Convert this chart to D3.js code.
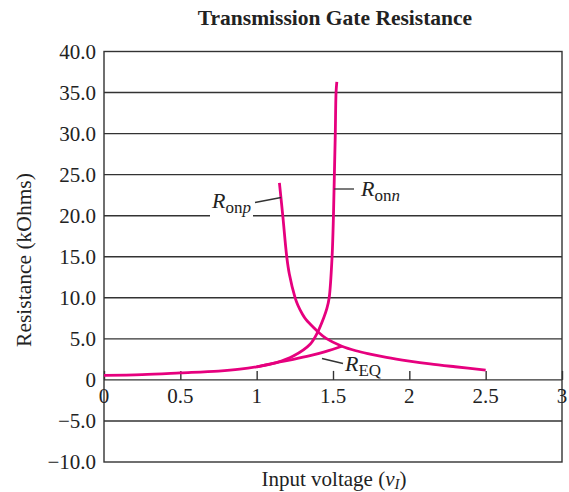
<!DOCTYPE html>
<html>
<head>
<meta charset="utf-8">
<script src="https://cdn.jsdelivr.net/npm/d3@7"></script>
<style>
  html, body { margin: 0; padding: 0; background: #fff; }
  svg { display: block; font-family: "Liberation Serif", "Times New Roman", serif; }
</style>
</head>
<body>
<svg id="chart" width="569" height="492"></svg>
<script>
// Input voltage (V) and on-resistance (kOhm) of the transmission gate devices
const ronnV = [0, 0.25, 0.5, 0.75, 0.89, 1.0, 1.13, 1.24, 1.35, 1.398, 1.44, 1.46, 1.475, 1.494, 1.503, 1.509, 1.515, 1.52, 1.525];
const ronnR = [0.55, 0.65, 0.85, 1.07, 1.3, 1.6, 2.1, 2.9, 4.34, 5.76, 7.6, 8.7, 10, 15, 20, 25, 30, 35, 36.3];

const ronpV = [1.149, 1.171, 1.197, 1.214, 1.252, 1.27, 1.30, 1.325, 1.35, 1.405, 1.455, 1.558, 1.65, 1.743, 1.85, 2.0, 2.136, 2.3, 2.5];
const ronpR = [24.0, 20, 15, 12.9, 10, 9.1, 8.0, 7.3, 6.8, 5.8, 5.05, 4.1, 3.55, 3.15, 2.75, 2.3, 1.95, 1.6, 1.2];

const reqV = [1.0, 1.13, 1.24, 1.35, 1.45, 1.558];
const reqR = [1.6, 2.1, 2.5, 2.95, 3.45, 4.1];

const xTicks = [0, 0.5, 1, 1.5, 2, 2.5, 3];
const xTickLabels = ["0", "0.5", "1", "1.5", "2", "2.5", "3"];
const yTicks = [40, 35, 30, 25, 20, 15, 10, 5, 0, -5, -10];
const yTickLabels = ["40.0", "35.0", "30.0", "25.0", "20.0", "15.0", "10.0", "5.0", "0", "\u22125.0", "\u221210.0"];

const svg = d3.select("#chart");
const ink = "#333";
const pink = "#e6007e";

const x = d3.scaleLinear().domain([0, 3]).range([104, 562]);
const y = d3.scaleLinear().domain([-10, 40]).range([462, 51.5]);

// title
svg.append("text")
  .attr("x", 335).attr("y", 25)
  .attr("text-anchor", "middle")
  .attr("font-weight", "bold")
  .attr("font-size", 21.5)
  .attr("fill", "#222")
  .text("Transmission Gate Resistance");

// horizontal grid lines
svg.append("g")
  .selectAll("line")
  .data(yTicks.filter(v => v !== 40 && v !== -10))
  .join("line")
  .attr("x1", x(0)).attr("x2", x(3))
  .attr("y1", d => y(d)).attr("y2", d => y(d))
  .attr("stroke", ink).attr("stroke-width", 1.4);

// frame
svg.append("rect")
  .attr("x", x(0)).attr("y", y(40))
  .attr("width", x(3) - x(0)).attr("height", y(-10) - y(40))
  .attr("fill", "none").attr("stroke", ink).attr("stroke-width", 1.4);

// x axis drawn on the zero line, ticks pointing up
const xAxis = d3.axisTop(x)
  .tickValues(xTicks)
  .tickSize(9)
  .tickFormat("");
const gx = svg.append("g").attr("transform", `translate(0,${y(0)})`).call(xAxis);
gx.select(".domain").remove();
gx.selectAll(".tick line").attr("stroke", ink).attr("stroke-width", 1.4);

svg.append("g")
  .selectAll("text")
  .data(xTicks)
  .join("text")
  .attr("x", d => x(d))
  .attr("y", y(0) + 23)
  .attr("text-anchor", "middle")
  .attr("font-size", 21)
  .attr("fill", "#222")
  .text((d, i) => xTickLabels[i]);

// y tick labels
svg.append("g")
  .selectAll("text")
  .data(yTicks)
  .join("text")
  .attr("x", 96)
  .attr("y", d => y(d) + 7)
  .attr("text-anchor", "end")
  .attr("font-size", 21)
  .attr("fill", "#222")
  .text((d, i) => yTickLabels[i]);

// axis titles
svg.append("text")
  .attr("transform", "translate(31,260) rotate(-90)")
  .attr("text-anchor", "middle")
  .attr("font-size", 21.5)
  .attr("fill", "#222")
  .text("Resistance (kOhms)");

const xt = svg.append("text")
  .attr("x", 334).attr("y", 486)
  .attr("text-anchor", "middle")
  .attr("font-size", 21)
  .attr("fill", "#222");
xt.append("tspan").text("Input voltage (");
xt.append("tspan").attr("font-style", "italic").text("v");
xt.append("tspan").attr("font-style", "italic").attr("font-size", 15).attr("dy", 3).text("I");
xt.append("tspan").attr("dy", -3).text(")");

// curves
const line = d3.line()
  .x(d => x(d[0]))
  .y(d => y(d[1]))
  .curve(d3.curveCatmullRom.alpha(0.5));

const series = [
  d3.zip(ronnV, ronnR),
  d3.zip(ronpV, ronpR),
  d3.zip(reqV, reqR)
];

svg.append("g")
  .selectAll("path")
  .data(series)
  .join("path")
  .attr("d", line)
  .attr("fill", "none")
  .attr("stroke", pink)
  .attr("stroke-width", 2.8)
  .attr("stroke-linecap", "butt");

// curve labels with leader lines
function leader(x1, y1, x2, y2) {
  svg.append("line")
    .attr("x1", x1).attr("y1", y1).attr("x2", x2).attr("y2", y2)
    .attr("stroke", ink).attr("stroke-width", 1.3);
}

function subLabel(px, py, parts) {
  const t = svg.append("text")
    .attr("x", px).attr("y", py)
    .attr("font-size", 22)
    .attr("fill", "#222");
  t.append("tspan").attr("font-style", "italic").text("R");
  let first = true;
  parts.forEach(p => {
    const s = t.append("tspan")
      .attr("font-size", 17)
      .attr("font-style", p.italic ? "italic" : "normal")
      .text(p.text);
    if (first) { s.attr("dy", 5); first = false; }
  });
  return t;
}

// white gap in the 20.0 grid line behind the Ronp label
svg.append("rect")
  .attr("x", 210).attr("y", y(20) - 4)
  .attr("width", 43).attr("height", 8)
  .attr("fill", "#fff");

subLabel(212, 208, [{ text: "on" }, { text: "p", italic: true }]);
leader(255, 202.5, x(1.16), 197.5);

subLabel(361, 196, [{ text: "on" }, { text: "n", italic: true }]);
leader(x(1.508), 189, 354, 189);

subLabel(345, 371, [{ text: "EQ" }]);
leader(322, 358.5, 343, 363.5);
</script>
</body>
</html>
